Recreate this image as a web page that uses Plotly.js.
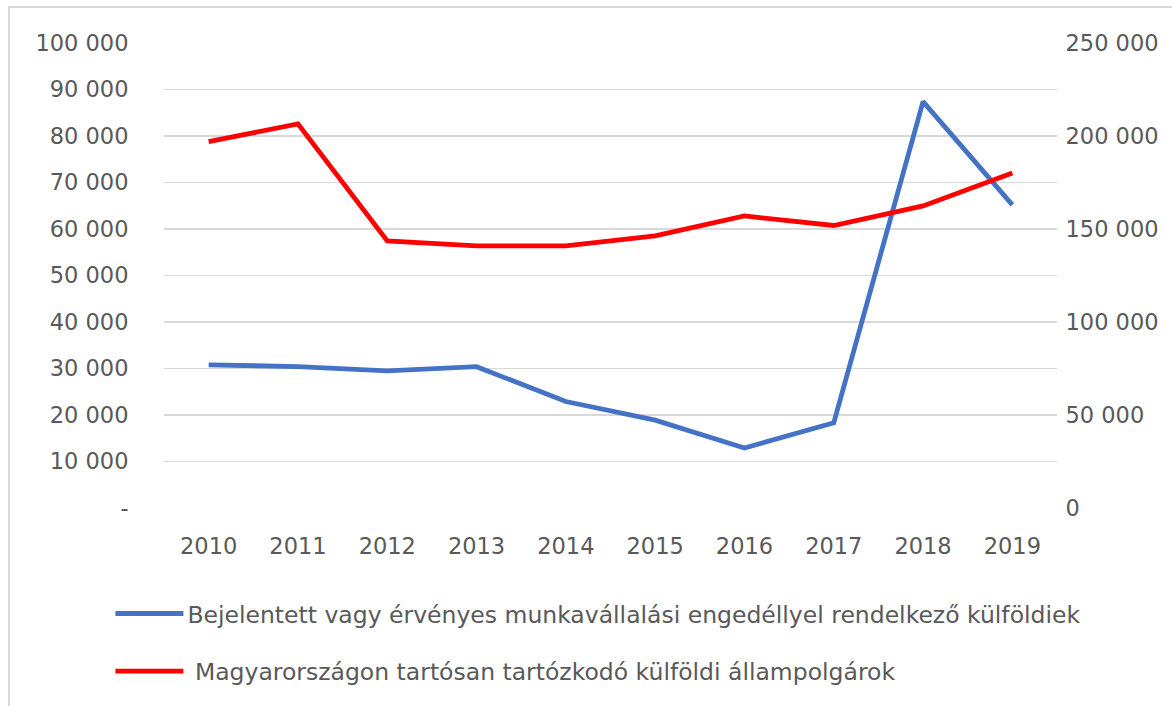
<!DOCTYPE html>
<html>
<head>
<meta charset="utf-8">
<script src="https://cdn.plot.ly/plotly-3.0.1.min.js"></script>
<style>
  html, body { margin: 0; padding: 0; background: #fff; }
  #wrap { position: relative; width: 1172px; height: 706px; }
  #chart { width: 1172px; height: 706px; }
  #frame { position: absolute; left: 8px; top: 6px; right: 0; bottom: 0;
           border-top: 2px solid #d9d9d9; border-left: 2px solid #d9d9d9; pointer-events: none; }
</style>
</head>
<body>
<div id="wrap">
  <div id="chart"></div>
  <div id="frame"></div>
</div>
<script>
// ---- data ----
const years = ['2010','2011','2012','2013','2014','2015','2016','2017','2018','2019'];
const workPermits = [30800, 30400, 29500, 30400, 22900, 18900, 12900, 18300, 87400, 65200];
const residents = [197000, 206500, 143600, 140900, 140900, 146300, 157000, 151900, 162400, 180100];
const seriesNames = [
  'Bejelentett vagy érvényes munkavállalási engedéllyel rendelkező külföldiek',
  ' Magyarországon tartósan tartózkodó külföldi állampolgárok'
];
const leftTickVals = [0, 10000, 20000, 30000, 40000, 50000, 60000, 70000, 80000, 90000, 100000];
const leftTickText = ['-', '10 000', '20 000', '30 000', '40 000', '50 000', '60 000', '70 000', '80 000', '90 000', '100 000'];
const rightTickVals = [0, 50000, 100000, 150000, 200000, 250000];
const rightTickText = ['0', '50 000', '100 000', '150 000', '200 000', '250 000'];

const FONT = 'DejaVu Sans, Verdana, sans-serif';
const TXT = '#595959';

const traces = [
  { x: years, y: workPermits, name: seriesNames[0], type: 'scatter', mode: 'lines',
    line: { color: '#4472c4', width: 4.8 }, legendgroup: 'a', yaxis: 'y' },
  { x: years, y: residents, name: seriesNames[1], type: 'scatter', mode: 'lines',
    line: { color: '#ff0000', width: 4.8 }, legendgroup: 'b', yaxis: 'y2' }
];

const layout = {
  width: 1172, height: 706,
  margin: { l: 164, r: 115, t: 43, b: 196 },
  paper_bgcolor: '#fff', plot_bgcolor: '#fff',
  font: { family: FONT, color: TXT, size: 22.5 },
  showlegend: true,
  legend: {
    x: -0.06, y: -0.18, xanchor: 'left', yanchor: 'top',
    orientation: 'v', font: { family: FONT, size: 23.5, color: TXT },
    itemwidth: 67, tracegroupgap: 24, bgcolor: 'rgba(0,0,0,0)'
  },
  xaxis: {
    type: 'category', range: [-0.5, 9.5], showgrid: false, zeroline: false,
    showline: false, ticks: 'outside', ticklen: 18, tickcolor: 'rgba(0,0,0,0)',
    tickfont: { family: FONT, size: 22.5, color: TXT }, fixedrange: true
  },
  yaxis: {
    range: [0, 100000], tickvals: leftTickVals, ticktext: leftTickText,
    showgrid: true, gridcolor: '#d9d9d9', gridwidth: 1.5, zeroline: false, showline: false,
    ticks: 'outside', ticklen: 30, tickcolor: 'rgba(0,0,0,0)',
    tickfont: { family: FONT, size: 22.5, color: TXT }, fixedrange: true
  },
  yaxis2: {
    range: [0, 250000], tickvals: rightTickVals, ticktext: rightTickText,
    overlaying: 'y', side: 'right', showgrid: false, zeroline: false, showline: false,
    ticks: 'outside', ticklen: 3, tickcolor: 'rgba(0,0,0,0)',
    tickfont: { family: FONT, size: 22.5, color: TXT }, fixedrange: true
  }
};

Plotly.newPlot('chart', traces, layout, { displayModeBar: false, staticPlot: true }).then(function (gd) {
  // lengthen legend line samples like the original
  gd.querySelectorAll('.legend .legendlines path').forEach(function (p) {
    p.setAttribute('d', 'M5,0h68');
  });
});
</script>
</body>
</html>
